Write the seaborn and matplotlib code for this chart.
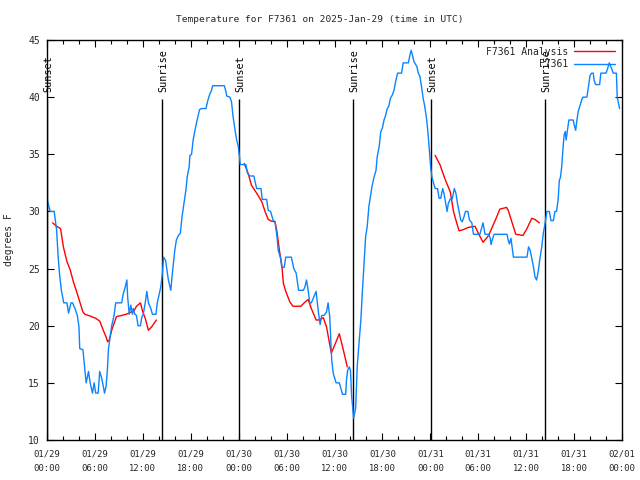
import numpy as np
import pandas as pd
import matplotlib
matplotlib.use("Agg")
import matplotlib.pyplot as plt
from matplotlib.lines import Line2D
import seaborn as sns

# ---------------- data ----------------
title = "Temperature for F7361 on 2025-Jan-29 (time in UTC)"
ylabel = "degrees F"
obs_label = "F7361"
ana_label = "F7361 Analysis"

tick_hours = [0, 6, 12, 18, 24, 30, 36, 42, 48, 54, 60, 66, 72]
tick_labels = ["01/29\n00:00", "01/29\n06:00", "01/29\n12:00", "01/29\n18:00",
               "01/30\n00:00", "01/30\n06:00", "01/30\n12:00", "01/30\n18:00",
               "01/31\n00:00", "01/31\n06:00", "01/31\n12:00", "01/31\n18:00",
               "02/01\n00:00"]

sunset_hours = [0.0, 24.05, 48.1]
sunrise_hours = [14.4, 38.35, 62.35]

obs_hours = [0.0, 0.4, 0.9, 1.2, 1.4, 1.6, 1.8, 2.1, 2.5, 2.7, 3.0, 3.2, 3.5, 3.8, 4.0, 4.1,
             4.5, 4.7, 4.9, 5.2, 5.4, 5.7, 5.9, 6.1, 6.4, 6.6, 6.85, 7.05, 7.2, 7.4, 7.55,
             7.7, 7.9, 8.1, 8.4, 8.6, 9.35, 9.55, 9.8, 10.0, 10.1, 10.3, 10.5, 10.7, 10.8,
             11.0, 11.2, 11.4, 11.7, 11.85, 12.05, 12.3, 12.5, 12.7, 13.0, 13.2, 13.65,
             13.8, 14.0, 14.25, 14.45, 14.6, 14.85, 15.2, 15.5, 15.7, 16.0, 16.2, 16.45,
             16.7, 16.9, 17.15, 17.4, 17.55, 17.8, 17.9, 18.1, 18.3, 18.5, 18.75, 19.1,
             19.3, 19.9, 20.1, 20.3, 20.6, 20.75, 22.2, 22.4, 22.5, 22.9, 23.1, 23.3,
             23.55, 23.75, 23.95, 24.1, 24.2, 24.9, 25.1, 25.4, 25.9, 26.25, 26.8, 26.95,
             27.5, 27.7, 28.0, 28.3, 28.55, 28.8, 28.95, 29.25, 29.4, 29.7, 29.9, 30.6,
             30.9, 31.2, 31.5, 32.1, 32.3, 32.5, 32.7, 32.9, 33.1, 33.4, 33.7, 33.85,
             34.0, 34.2, 34.4, 34.7, 35.0, 35.2, 35.4, 35.65, 35.85, 36.2, 36.6, 36.8,
             37.0, 37.4, 37.5, 37.65, 37.85, 38.0, 38.15, 38.4, 38.65, 38.85, 39.1, 39.3,
             39.5, 39.7, 39.9, 40.1, 40.3, 40.5, 40.7, 40.95, 41.2, 41.35, 41.6, 41.8,
             42.0, 42.2, 42.4, 42.6, 42.8, 43.0, 43.25, 43.45, 43.65, 43.9, 44.4, 44.6,
             45.25, 45.45, 45.6, 45.75, 45.95, 46.3, 46.5, 46.7, 46.9, 47.1, 47.3, 47.55,
             47.75, 47.9, 48.05, 48.2, 48.4, 48.6, 48.9, 49.1, 49.3, 49.55, 49.7, 50.0,
             50.1, 50.25, 50.5, 50.75, 51.0, 51.2, 51.4, 51.6, 51.8, 52.0, 52.2, 52.4,
             52.7, 52.9, 53.2, 53.4, 54.2, 54.4, 54.6, 54.85, 55.3, 55.5, 55.6, 55.8,
             56.0, 57.6, 57.75, 57.9, 58.1, 58.2, 58.4, 60.1, 60.3, 60.5, 60.7, 60.9,
             61.1, 61.3, 61.5, 61.7, 61.95, 62.15, 62.35, 62.6, 62.9, 63.1, 63.4, 63.6,
             63.8, 64.0, 64.15, 64.3, 64.45, 64.6, 64.75, 64.9, 65.0, 65.15, 65.35, 65.9,
             66.0, 66.2, 66.3, 66.5, 66.75, 66.95, 67.1, 67.6, 67.8, 68.0, 68.2, 68.4,
             68.5, 68.7, 69.2, 69.35, 70.0, 70.2, 70.4, 70.7, 70.9, 71.3, 71.4, 71.7]
obs_temps = [31.1, 30.0, 30.0, 28.4, 26.0, 24.3, 23.1, 22.0, 22.0, 21.1, 22.0, 22.0, 21.5,
             20.9, 19.9, 18.0, 17.9, 16.4, 15.0, 16.0, 15.0, 14.1, 15.0, 14.1, 14.1, 16.0,
             15.4, 14.7, 14.1, 14.7, 16.0, 18.0, 19.0, 20.0, 20.9, 22.0, 22.0, 22.8, 23.4,
             24.0, 22.5, 21.0, 21.8, 21.0, 21.5, 21.0, 20.9, 20.0, 20.0, 20.7, 21.0, 22.0,
             23.0, 22.0, 21.5, 21.0, 21.0, 22.0, 22.6, 23.4, 24.6, 26.0, 25.7, 24.0, 23.1,
             24.6, 26.6, 27.5, 27.9, 28.1, 29.5, 30.7, 31.9, 33.0, 33.9, 34.9, 35.0, 36.25,
             37.0, 37.85, 38.9, 39.0, 39.0, 39.6, 40.1, 40.6, 41.0, 41.0, 40.5, 40.1, 40.0,
             39.6, 38.3, 37.1, 36.25, 35.7, 34.8, 34.1, 34.1, 33.35, 33.1, 33.1, 32.0, 32.0,
             31.05, 31.05, 30.1, 30.0, 29.25, 29.1, 27.8, 26.6, 25.9, 25.1, 25.1, 26.0,
             26.0, 25.0, 24.6, 23.1, 23.1, 23.4, 24.0, 23.1, 22.0, 22.0, 22.5, 23.0, 22.0,
             21.1, 20.1, 20.9, 20.9, 21.2, 22.0, 20.8, 17.0, 15.8, 15.0, 15.0, 14.5, 14.0,
             14.0, 15.25, 16.1, 16.4, 16.1, 13.8, 11.9, 12.8, 16.5, 18.75, 20.5, 23.1, 25.5,
             27.8, 28.7, 30.4, 31.3, 32.2, 33.0, 33.6, 34.8, 35.7, 37.0, 37.3, 38.0, 38.4,
             39.0, 39.2, 39.9, 40.2, 40.6, 41.35, 42.1, 42.1, 43.0, 43.0, 43.7, 44.1, 43.7,
             43.1, 42.7, 42.1, 41.8, 40.9, 39.9, 39.2, 38.0, 36.5, 35.1, 33.8, 33.0, 32.5,
             32.0, 32.0, 31.15, 31.15, 32.0, 31.6, 30.4, 30.0, 30.7, 31.1, 31.1, 32.0, 31.6,
             30.7, 30.0, 29.25, 29.1, 29.5, 30.0, 30.0, 29.25, 29.0, 28.0, 28.0, 28.5, 29.0,
             28.0, 28.0, 27.65, 27.1, 27.65, 28.0, 28.0, 27.5, 27.15, 27.65, 27.1, 26.0,
             26.0, 26.9, 26.6, 25.9, 25.2, 24.3, 24.0, 24.7, 25.75, 26.9, 28.1, 28.9, 30.0,
             30.0, 29.2, 29.2, 30.0, 30.0, 31.0, 32.7, 33.0, 33.9, 35.4, 36.7, 37.0, 36.25,
             37.0, 38.0, 38.0, 37.6, 37.1, 37.7, 38.7, 39.3, 39.75, 40.0, 40.0, 40.9, 41.9,
             42.1, 42.1, 41.5, 41.1, 41.1, 42.1, 42.1, 42.5, 43.0, 42.5, 42.1, 42.1, 40.0,
             39.0]

ana1_hours = [0.7, 1.2, 1.7, 2.05, 2.5, 2.9, 3.3, 3.7, 4.1, 4.5, 4.75, 5.4, 6.1, 6.6, 7.05,
              7.4, 7.6, 7.8, 8.1, 8.4, 8.7, 9.35, 9.9, 10.4, 10.9, 11.2, 11.7, 12.0, 12.3,
              12.7, 13.1, 13.7]
ana1_temps = [29.0, 28.7, 28.5, 26.9, 25.6, 24.9, 23.85, 23.0, 22.1, 21.2, 21.0, 20.85,
              20.65, 20.4, 19.6, 19.0, 18.6, 18.75, 19.6, 20.2, 20.8, 20.9, 21.0, 21.15,
              21.3, 21.7, 22.0, 21.2, 20.65, 19.6, 19.9, 20.5]
ana2_hours = [24.7, 25.2, 25.6, 26.25, 26.9, 27.3, 27.7, 28.1, 28.55, 28.8, 29.1, 29.4,
              29.6, 29.9, 30.4, 30.8, 31.8, 32.2, 32.7, 33.1, 33.7, 34.0, 34.6, 35.0, 35.6,
              36.2, 36.6, 37.1, 37.6]
ana2_temps = [34.2, 33.3, 32.3, 31.6, 30.85, 30.0, 29.3, 29.15, 29.1, 28.2, 26.6, 25.3,
              23.7, 23.0, 22.1, 21.7, 21.7, 22.0, 22.3, 21.5, 20.5, 20.5, 20.7, 19.9, 17.6,
              18.6, 19.3, 17.9, 16.4]
ana3_hours = [48.6, 49.2, 49.8, 50.5, 50.9, 51.3, 51.6, 52.1, 52.75, 53.6, 54.0, 54.6,
              55.3, 55.8, 56.3, 56.7, 57.55, 57.75, 58.2, 58.7, 59.6, 60.1, 60.7, 61.1,
              61.65]
ana3_temps = [34.9, 34.1, 32.9, 31.7, 30.0, 29.0, 28.3, 28.4, 28.6, 28.7, 28.1, 27.3, 27.9,
              28.7, 29.5, 30.2, 30.35, 30.1, 29.1, 28.0, 27.9, 28.5, 29.4, 29.3, 29.0]

# ---------------- style ----------------
sns.set_style("ticks")
plt.rcParams["font.family"] = ["DejaVu Sans Mono"]
FS = 6.4
RED = "#ff0000"
BLUE = "#0a84ff"

fig = plt.figure(figsize=(6.4, 4.8), dpi=100)
ax = fig.add_axes([47 / 640, 40 / 480, 575 / 640, 400 / 480])

ana_df = pd.concat([
    pd.DataFrame({"hour": ana1_hours, "temp": ana1_temps, "seg": 1}),
    pd.DataFrame({"hour": ana2_hours, "temp": ana2_temps, "seg": 2}),
    pd.DataFrame({"hour": ana3_hours, "temp": ana3_temps, "seg": 3}),
], ignore_index=True)
obs_df = pd.DataFrame({"hour": obs_hours, "temp": obs_temps})

sns.lineplot(data=ana_df, x="hour", y="temp", units="seg", estimator=None,
             color=RED, lw=1.0, ax=ax, legend=False)
sns.lineplot(data=obs_df, x="hour", y="temp", estimator=None, sort=False,
             color=BLUE, lw=1.0, ax=ax, legend=False)

# sunrise / sunset markers
for h in sunset_hours:
    ax.vlines(h, 10, 39.8, color="black", lw=1.0, zorder=1)
    ax.text(h + 0.2, 40.45, "Sunset", rotation=90, ha="center", va="bottom",
            fontsize=7.3, color="black")
for h in sunrise_hours:
    ax.vlines(h, 10, 39.8, color="black", lw=1.0, zorder=1)
    ax.text(h + 0.2, 40.45, "Sunrise", rotation=90, ha="center", va="bottom",
            fontsize=7.3, color="black")

ax.set_xlim(0, 72)
ax.set_ylim(10, 45)
ax.set_xticks(tick_hours)
ax.set_xticklabels(tick_labels, fontsize=FS, linespacing=1.75)
ax.set_xticks(np.arange(0, 73, 2), minor=True)
ax.set_yticks(np.arange(10, 46, 5))
ax.tick_params(axis="y", labelsize=FS + 0.6)
ax.tick_params(which="both", direction="in", top=True, right=True, color="black",
               width=0.8)
ax.tick_params(axis="x", which="major", length=5, pad=7)
ax.tick_params(axis="x", which="minor", length=3)
ax.tick_params(axis="y", which="major", length=5, pad=5)
for s in ax.spines.values():
    s.set_color("black")
    s.set_linewidth(1.0)
ax.grid(False)

ax.set_xlabel("")
ax.set_ylabel(ylabel, fontsize=FS + 0.6, labelpad=10)
fig.text(0.5, 1 - 19 / 480, title, ha="center", va="center", fontsize=FS + 0.4)

handles = [Line2D([], [], color=RED, lw=1.0), Line2D([], [], color=BLUE, lw=1.0)]
labels = [ana_label, obs_label.rjust(len(ana_label))]
leg = ax.legend(handles, labels, loc="upper right", frameon=False, markerfirst=False,
                fontsize=FS + 0.6, handlelength=4.2, handletextpad=0.6,
                labelspacing=0.25, borderaxespad=0.3)

fig.savefig("out.png", dpi=100)
